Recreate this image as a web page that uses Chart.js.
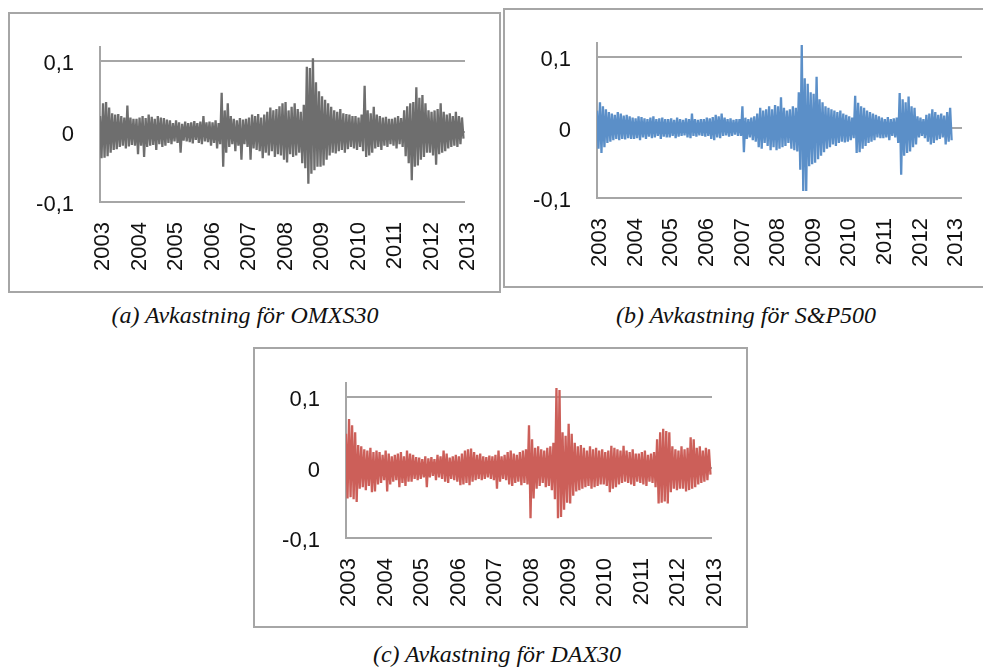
<!DOCTYPE html>
<html>
<head>
<meta charset="utf-8">
<script src="https://cdn.jsdelivr.net/npm/chart.js@4.4.0/dist/chart.umd.min.js"></script>
<style>
  body { margin: 0; background: #fff; width: 983px; height: 672px; overflow: hidden; position: relative; }
  .box { position: absolute; border: 2px solid #a6a6a6; box-sizing: border-box; }
  .plot { position: absolute; }
  .cap { position: absolute; font-family: "Liberation Serif", "Times New Roman", serif; font-style: italic;
         font-size: 24px; color: #111; white-space: nowrap; transform: translateX(-50%); }
</style>
</head>
<body>

<div class="box" style="left:8px;top:12px;width:493px;height:281px"></div>
<div class="box" style="left:503px;top:8px;width:600px;height:280px"></div>
<div class="box" style="left:253px;top:347px;width:495px;height:281px"></div>

<canvas id="omx" class="plot" style="left:8px;top:12px" width="492" height="280"></canvas>
<canvas id="sp" class="plot" style="left:504px;top:9px" width="479" height="278"></canvas>
<canvas id="dax" class="plot" style="left:254px;top:348px" width="493" height="279"></canvas>

<div class="cap" style="left:245px;top:302px">(a) Avkastning för OMXS30</div>
<div class="cap" style="left:746px;top:302px">(b) Avkastning för S&amp;P500</div>
<div class="cap" style="left:497px;top:641px">(c) Avkastning för DAX30</div>

<script>
// tick labels
const yearLabels = ['2003', '2004', '2005', '2006', '2007', '2008', '2009', '2010', '2011', '2012', '2013'];
const yTicks = [-0.1, 0, 0.1];

// monthly max / min of the daily returns (one line = one year)
const omxHigh = [
  0.022, 0.040, 0.042, 0.034, 0.026, 0.024, 0.025, 0.022, 0.020, 0.037, 0.020, 0.018,
  0.018, 0.020, 0.022, 0.019, 0.024, 0.021, 0.018, 0.022, 0.020, 0.019, 0.017, 0.016,
  0.012, 0.016, 0.013, 0.011, 0.014, 0.012, 0.013, 0.015, 0.012, 0.014, 0.022, 0.013,
  0.014, 0.013, 0.016, 0.012, 0.055, 0.030, 0.040, 0.022, 0.018, 0.016, 0.019, 0.017,
  0.018, 0.020, 0.024, 0.022, 0.025, 0.020, 0.024, 0.028, 0.034, 0.030, 0.032, 0.036,
  0.040, 0.042, 0.030, 0.035, 0.040, 0.032, 0.028, 0.038, 0.092, 0.090, 0.104, 0.070,
  0.057, 0.050, 0.045, 0.040, 0.035, 0.030, 0.028, 0.032, 0.026, 0.025, 0.024, 0.022,
  0.022, 0.020, 0.024, 0.065, 0.030, 0.026, 0.035, 0.024, 0.022, 0.020, 0.021, 0.018,
  0.018, 0.020, 0.022, 0.019, 0.030, 0.036, 0.040, 0.042, 0.063, 0.048, 0.052, 0.040,
  0.030, 0.028, 0.030, 0.032, 0.040, 0.028, 0.024, 0.026, 0.022, 0.028, 0.022, 0.020
];
const omxLow = [
  -0.038, -0.037, -0.035, -0.030, -0.026, -0.025, -0.022, -0.020, -0.024, -0.021, -0.019, -0.020,
  -0.032, -0.020, -0.036, -0.022, -0.020, -0.019, -0.026, -0.018, -0.022, -0.020, -0.016, -0.018,
  -0.014, -0.016, -0.030, -0.013, -0.014, -0.015, -0.017, -0.012, -0.016, -0.018, -0.014, -0.015,
  -0.020, -0.016, -0.024, -0.018, -0.050, -0.030, -0.022, -0.018, -0.028, -0.020, -0.040, -0.018,
  -0.022, -0.040, -0.024, -0.026, -0.028, -0.038, -0.030, -0.034, -0.028, -0.036, -0.032, -0.034,
  -0.040, -0.044, -0.032, -0.036, -0.034, -0.030, -0.045, -0.052, -0.074, -0.060, -0.055, -0.050,
  -0.050, -0.048, -0.040, -0.034, -0.030, -0.031, -0.028, -0.026, -0.030, -0.025, -0.022, -0.024,
  -0.026, -0.022, -0.028, -0.036, -0.034, -0.030, -0.024, -0.022, -0.026, -0.020, -0.022, -0.018,
  -0.020, -0.024, -0.018, -0.022, -0.035, -0.045, -0.069, -0.050, -0.048, -0.040, -0.036, -0.030,
  -0.030, -0.034, -0.047, -0.032, -0.030, -0.028, -0.024, -0.022, -0.020, -0.022, -0.018, -0.010
];

const spHigh = [
  0.024, 0.036, 0.030, 0.026, 0.022, 0.020, 0.018, 0.022, 0.020, 0.017, 0.018, 0.016,
  0.014, 0.013, 0.016, 0.015, 0.013, 0.012, 0.014, 0.016, 0.012, 0.013, 0.014, 0.012,
  0.012, 0.013, 0.011, 0.014, 0.012, 0.011, 0.013, 0.012, 0.020, 0.012, 0.011, 0.012,
  0.012, 0.014, 0.013, 0.015, 0.018, 0.016, 0.020, 0.014, 0.012, 0.013, 0.011, 0.012,
  0.012, 0.030, 0.014, 0.012, 0.014, 0.016, 0.020, 0.028, 0.024, 0.026, 0.030, 0.026,
  0.032, 0.030, 0.043, 0.028, 0.024, 0.026, 0.030, 0.028, 0.050, 0.117, 0.070, 0.062,
  0.050, 0.048, 0.072, 0.040, 0.036, 0.030, 0.028, 0.026, 0.024, 0.022, 0.024, 0.020,
  0.018, 0.016, 0.014, 0.045, 0.035, 0.030, 0.028, 0.024, 0.022, 0.020, 0.018, 0.016,
  0.014, 0.012, 0.015, 0.012, 0.013, 0.014, 0.049, 0.040, 0.036, 0.044, 0.030, 0.028,
  0.016, 0.014, 0.012, 0.018, 0.020, 0.026, 0.022, 0.018, 0.020, 0.017, 0.022, 0.028
];
const spLow = [
  -0.030, -0.036, -0.028, -0.022, -0.020, -0.018, -0.016, -0.018, -0.016, -0.017, -0.015, -0.016,
  -0.016, -0.015, -0.018, -0.014, -0.016, -0.013, -0.015, -0.014, -0.012, -0.016, -0.013, -0.014,
  -0.014, -0.012, -0.015, -0.013, -0.012, -0.011, -0.014, -0.015, -0.012, -0.013, -0.011, -0.012,
  -0.013, -0.012, -0.016, -0.018, -0.014, -0.015, -0.012, -0.011, -0.013, -0.012, -0.010, -0.012,
  -0.012, -0.035, -0.016, -0.014, -0.018, -0.020, -0.028, -0.030, -0.022, -0.026, -0.032, -0.028,
  -0.032, -0.030, -0.028, -0.026, -0.022, -0.030, -0.032, -0.034, -0.060, -0.090, -0.090, -0.055,
  -0.052, -0.050, -0.045, -0.040, -0.035, -0.030, -0.028, -0.024, -0.026, -0.022, -0.020, -0.021,
  -0.020, -0.018, -0.015, -0.036, -0.035, -0.030, -0.026, -0.022, -0.020, -0.018, -0.014, -0.015,
  -0.015, -0.014, -0.018, -0.012, -0.014, -0.022, -0.067, -0.040, -0.036, -0.034, -0.028, -0.024,
  -0.014, -0.012, -0.015, -0.020, -0.024, -0.022, -0.018, -0.016, -0.014, -0.024, -0.020, -0.018
];

const daxHigh = [
  0.048, 0.069, 0.060, 0.050, 0.032, 0.030, 0.026, 0.024, 0.028, 0.022, 0.024, 0.022,
  0.018, 0.024, 0.020, 0.016, 0.018, 0.020, 0.022, 0.016, 0.024, 0.020, 0.018, 0.015,
  0.014, 0.012, 0.016, 0.013, 0.015, 0.012, 0.018, 0.016, 0.024, 0.020, 0.014, 0.016,
  0.018, 0.016, 0.020, 0.024, 0.026, 0.027, 0.022, 0.018, 0.020, 0.016, 0.015, 0.017,
  0.016, 0.018, 0.024, 0.016, 0.018, 0.022, 0.024, 0.020, 0.018, 0.022, 0.024, 0.026,
  0.060, 0.040, 0.028, 0.030, 0.026, 0.024, 0.028, 0.030, 0.035, 0.113, 0.110, 0.050,
  0.045, 0.062, 0.048, 0.035, 0.030, 0.032, 0.028, 0.024, 0.030, 0.026, 0.028, 0.024,
  0.026, 0.022, 0.024, 0.031, 0.028, 0.026, 0.024, 0.031, 0.024, 0.022, 0.026, 0.020,
  0.020, 0.022, 0.024, 0.018, 0.020, 0.022, 0.040, 0.050, 0.055, 0.052, 0.050, 0.030,
  0.026, 0.024, 0.030, 0.026, 0.028, 0.043, 0.040, 0.028, 0.030, 0.024, 0.028, 0.026
];
const daxLow = [
  -0.044, -0.042, -0.045, -0.049, -0.030, -0.028, -0.032, -0.026, -0.035, -0.034, -0.024, -0.022,
  -0.018, -0.034, -0.024, -0.020, -0.018, -0.028, -0.022, -0.026, -0.020, -0.020, -0.016, -0.018,
  -0.016, -0.014, -0.028, -0.014, -0.012, -0.018, -0.014, -0.016, -0.020, -0.022, -0.016, -0.018,
  -0.020, -0.025, -0.024, -0.022, -0.025, -0.020, -0.018, -0.016, -0.018, -0.016, -0.014, -0.016,
  -0.018, -0.030, -0.020, -0.016, -0.018, -0.024, -0.026, -0.022, -0.020, -0.025, -0.022, -0.024,
  -0.072, -0.044, -0.030, -0.026, -0.022, -0.028, -0.026, -0.032, -0.045, -0.072, -0.070, -0.060,
  -0.050, -0.051, -0.040, -0.034, -0.032, -0.030, -0.028, -0.026, -0.030, -0.028, -0.026, -0.024,
  -0.024, -0.026, -0.035, -0.030, -0.028, -0.024, -0.022, -0.020, -0.022, -0.024, -0.026, -0.020,
  -0.022, -0.024, -0.026, -0.020, -0.022, -0.028, -0.051, -0.050, -0.048, -0.051, -0.035, -0.030,
  -0.032, -0.030, -0.030, -0.034, -0.032, -0.030, -0.028, -0.024, -0.022, -0.020, -0.018, -0.010
];

const gridGray = '#a6a6a6';

// each month: max early in the month, min half a month later -> dense zigzag like the daily series
function toPoints(high, low) {
  const pts = [];
  high.forEach((h, i) => {
    pts.push({ x: 2003 + i / 12, y: h });
    pts.push({ x: 2003 + (i + 0.5) / 12, y: low[i] });
  });
  return pts;
}

function drawChart(id, high, low, color, xMax, pad) {
  new Chart(document.getElementById(id), {
    type: 'line',
    data: {
      datasets: [{
        data: toPoints(high, low),
        borderColor: color,
        borderWidth: 2.3,
        pointRadius: 0,
        tension: 0
      }]
    },
    options: {
      responsive: false,
      animation: false,
      layout: { padding: { left: 0, top: pad.top, right: pad.right, bottom: 10 } },
      plugins: { legend: { display: false }, tooltip: { enabled: false } },
      scales: {
        x: {
          type: 'linear',
          min: 2003,
          max: xMax,
          afterBuildTicks: s => { s.ticks = yearLabels.map(y => ({ value: +y })); },
          afterFit: s => {
            s.height = pad.bottom - 10;
            s.paddingLeft = 0;
            s.paddingRight = 0;
          },
          grid: { display: false, drawTicks: false },
          border: { display: false },
          ticks: {
            autoSkip: false,
            maxRotation: 90,
            minRotation: 90,
            padding: 20,
            labelOffset: 3,
            color: '#111',
            font: { family: 'Liberation Sans', size: 22 },
            callback: v => String(v)
          }
        },
        y: {
          min: -0.1,
          max: 0.12,
          afterBuildTicks: s => { s.ticks = yTicks.map(v => ({ value: v })); },
          afterFit: s => {
            s.width = pad.left;
            s.paddingTop = 0;
            s.paddingBottom = 0;
          },
          grid: { color: gridGray, lineWidth: 2, drawTicks: false },
          border: { display: true, color: gridGray, width: 2 },
          ticks: {
            padding: 26,
            labelOffset: 3,
            color: '#111',
            font: { family: 'Liberation Sans', size: 22 },
            callback: v => String(v).replace('.', ',')
          }
        }
      }
    }
  });
}

drawChart('omx', omxHigh, omxLow, '#6e6e6e', 2013, { left: 92, top: 35, right: 35, bottom: 90 });
drawChart('sp', spHigh, spLow, '#5b8fc8', 2013.25, { left: 93, top: 34, right: 21, bottom: 89 });
drawChart('dax', daxHigh, daxLow, '#cc5f59', 2013, { left: 92, top: 35, right: 35, bottom: 89 });
</script>
</body>
</html>
